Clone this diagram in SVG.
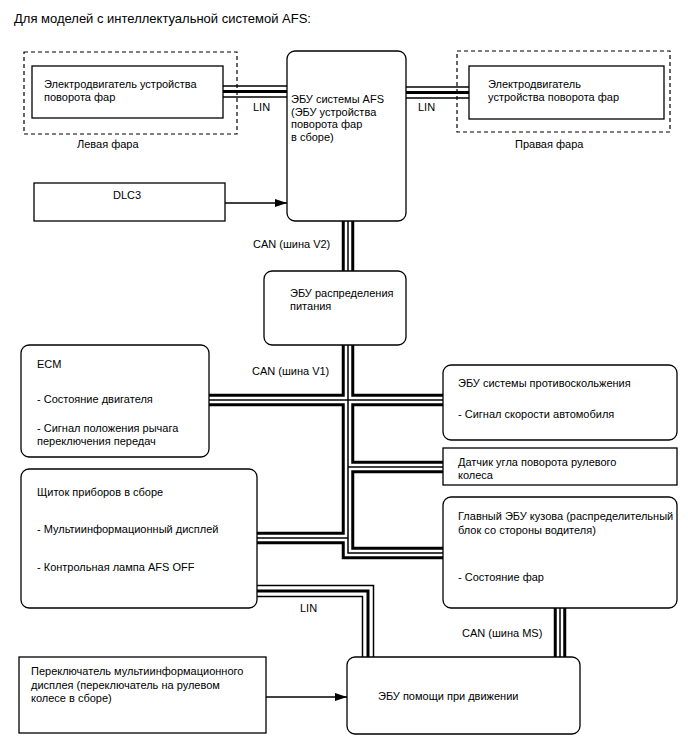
<svg xmlns="http://www.w3.org/2000/svg" width="688" height="755" viewBox="0 0 688 755">
<defs>
<marker id="arr" viewBox="0 0 12 8" refX="12" refY="4" markerWidth="12" markerHeight="8" markerUnits="userSpaceOnUse" orient="auto"><path d="M0,0 L12,4 L0,8 z" fill="#000"/></marker>
<path id="can-v2" d="M348,221 V271"/>
<path id="can-trunk" d="M348,345 V553 H443"/>
<path id="can-h1" d="M209,400 H443"/>
<path id="can-dat" d="M348,467 H443"/>
<path id="can-sh" d="M257,538 H348"/>
<path id="can-ms" d="M560,608 V657"/>
<path id="lin-l" d="M223,91.5 H287"/>
<path id="lin-r" d="M406,92.5 H469"/>
<path id="lin-b" d="M257,591 H368 V657"/>
</defs>
<style>
text { font-family: "Liberation Sans", Arial, sans-serif; font-size: 11px; fill: #000; }
.title { font-size: 13px; }
.box { fill: #fff; stroke: #000; stroke-width: 1.3; }
.dash { fill: none; stroke: #000; stroke-width: 1.2; stroke-dasharray: 4 3; }
.canO { fill: none; stroke: #000; stroke-width: 12.5; stroke-linejoin: miter; }
.canW { fill: none; stroke: #fff; stroke-width: 6.5; stroke-linejoin: miter; }
.canC { fill: none; stroke: #000; stroke-width: 1.5; stroke-linejoin: miter; }
.linO { fill: none; stroke: #000; stroke-width: 12.5; stroke-linejoin: miter; }
.linW { fill: none; stroke: #fff; stroke-width: 9.5; stroke-linejoin: miter; }
.linC { fill: none; stroke: #000; stroke-width: 3; stroke-linejoin: miter; }
.arrow { fill: none; stroke: #000; stroke-width: 1.3; marker-end: url(#arr); }
</style>
<rect width="688" height="755" fill="#fff"/>
<text class="title" x="14" y="23">Для моделей с интеллектуальной системой AFS:</text>

<g id="connectors">
  <g id="can-bus">
    <use href="#can-v2" class="canO"/><use href="#can-trunk" class="canO"/><use href="#can-h1" class="canO"/><use href="#can-dat" class="canO"/><use href="#can-sh" class="canO"/><use href="#can-ms" class="canO"/>
    <use href="#can-v2" class="canW"/><use href="#can-trunk" class="canW"/><use href="#can-h1" class="canW"/><use href="#can-dat" class="canW"/><use href="#can-sh" class="canW"/><use href="#can-ms" class="canW"/>
    <use href="#can-v2" class="canC"/><use href="#can-trunk" class="canC"/><use href="#can-h1" class="canC"/><use href="#can-dat" class="canC"/><use href="#can-sh" class="canC"/><use href="#can-ms" class="canC"/>
  </g>
  <g id="lin-bus">
    <use href="#lin-l" class="linO"/><use href="#lin-r" class="linO"/><use href="#lin-b" class="linO"/>
    <use href="#lin-l" class="linW"/><use href="#lin-r" class="linW"/><use href="#lin-b" class="linW"/>
    <use href="#lin-l" class="linC"/><use href="#lin-r" class="linC"/><use href="#lin-b" class="linC"/>
  </g>
  <path class="arrow" d="M225,203 H287"/>
  <path class="arrow" d="M266,697 H347"/>
  <text x="253" y="111">LIN</text>
  <text x="418" y="111">LIN</text>
  <text x="253" y="248">CAN (шина V2)</text>
  <text x="252" y="375">CAN (шина V1)</text>
  <text x="300" y="612">LIN</text>
  <text x="462" y="637">CAN (шина MS)</text>
</g>

<g id="left-headlamp">
  <rect class="dash" x="24" y="52" width="213" height="82"/>
  <text x="77" y="148">Левая фара</text>
</g>
<g id="left-motor">
  <rect class="box" x="32" y="66" width="191" height="52"/>
  <text x="44" y="88">Электродвигатель устройства</text>
  <text x="44" y="101">поворота фар</text>
</g>
<g id="afs-ecu">
  <rect class="box" x="287" y="51" width="119" height="170" rx="8"/>
  <text x="291" y="103">ЭБУ системы AFS</text>
  <text x="291" y="115.5">(ЭБУ устройства</text>
  <text x="291" y="128">поворота фар</text>
  <text x="291" y="140.5">в сборе)</text>
</g>
<g id="right-headlamp">
  <rect class="dash" x="457" y="51" width="213" height="81"/>
  <text x="515" y="148">Правая фара</text>
</g>
<g id="right-motor">
  <rect class="box" x="469" y="66" width="195" height="53"/>
  <text x="488" y="88">Электродвигатель</text>
  <text x="488" y="101">устройства поворота фар</text>
</g>
<g id="dlc3">
  <rect class="box" x="34" y="183" width="191" height="38"/>
  <text x="113" y="199">DLC3</text>
</g>
<g id="power-ecu">
  <rect class="box" x="264" y="271" width="142" height="74" rx="8"/>
  <text x="290" y="297">ЭБУ распределения</text>
  <text x="290" y="310">питания</text>
</g>
<g id="ecm">
  <rect class="box" x="21" y="345" width="188" height="112" rx="8"/>
  <text x="37" y="368">ECM</text>
  <text x="37" y="403">- Состояние двигателя</text>
  <text x="37" y="432">- Сигнал положения рычага</text>
  <text x="37" y="445">переключения передач</text>
</g>
<g id="skid-ecu">
  <rect class="box" x="443" y="365" width="234" height="75" rx="8"/>
  <text x="458" y="387">ЭБУ системы противоскольжения</text>
  <text x="458" y="418">- Сигнал скорости автомобиля</text>
</g>
<g id="steering-sensor">
  <rect class="box" x="443" y="448" width="234" height="37"/>
  <text x="458" y="466">Датчик угла поворота рулевого</text>
  <text x="458" y="479">колеса</text>
</g>
<g id="combination-meter">
  <rect class="box" x="21" y="469" width="236" height="139" rx="8"/>
  <text x="37" y="496">Щиток приборов в сборе</text>
  <text x="37" y="533">- Мультиинформационный дисплей</text>
  <text x="37" y="571">- Контрольная лампа AFS OFF</text>
</g>
<g id="main-body-ecu">
  <rect class="box" x="443" y="497" width="234" height="111" rx="8"/>
  <text x="458" y="520">Главный ЭБУ кузова (распределительный</text>
  <text x="458" y="534">блок со стороны водителя)</text>
  <text x="458" y="581">- Состояние фар</text>
</g>
<g id="display-switch">
  <rect class="box" x="19" y="657" width="247" height="76"/>
  <text x="31" y="675">Переключатель мультиинформационного</text>
  <text x="31" y="688.5">дисплея (переключатель на рулевом</text>
  <text x="31" y="702">колесе в сборе)</text>
</g>
<g id="driving-support-ecu">
  <rect class="box" x="347" y="657" width="233" height="77" rx="8"/>
  <text x="378" y="700">ЭБУ помощи при движении</text>
</g>
</svg>
